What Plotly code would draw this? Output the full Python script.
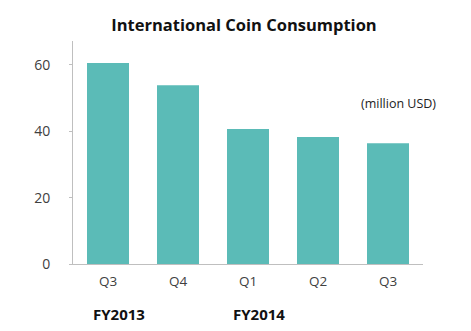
import plotly.graph_objects as go

quarters = ["Q3", "Q4", "Q1", "Q2", "Q3"]
values = [60.6, 53.9, 40.7, 38.3, 36.4]
fiscal_years = ["FY2013", "FY2014"]
fy_positions = [0.16, 2.16]
y_ticks = [0, 20, 40, 60]

positions = list(range(len(quarters)))
bar_color = "#5BBBB7"
axis_color = "#BFBFBF"
text_color = "#404040"
font_family = "Open Sans, Lato, sans-serif"

fig = go.Figure()
fig.add_trace(go.Bar(x=positions, y=values, marker=dict(color=bar_color, line=dict(width=0)),
                     width=0.6, hoverinfo="skip"))

fig.update_layout(
    width=471, height=331,
    margin=dict(l=73, r=48, t=41, b=67),
    paper_bgcolor="white", plot_bgcolor="white",
    showlegend=False,
    font=dict(family=font_family, size=12, color=text_color),
    title=dict(text="<b>International Coin Consumption</b>", x=0.518, xanchor="center",
               y=1 - 25 / 331, yanchor="middle",
               font=dict(family=font_family, size=16.5, color="#111111")),
    xaxis=dict(range=[-0.5, 4.5], tickvals=positions, ticktext=quarters,
               showline=True, linecolor=axis_color, linewidth=1,
               showgrid=False, zeroline=False, ticks="", ticklen=0,
               ticklabelstandoff=5,
               tickfont=dict(size=13.5, color=text_color)),
    yaxis=dict(range=[0, 67.2], tickvals=y_ticks, showline=True, linecolor=axis_color,
               linewidth=1, showgrid=False, zeroline=False, ticks="outside", ticklen=3,
               tickcolor=axis_color, ticklabelstandoff=16,
               tickfont=dict(size=14, color=text_color)),
)

fy_y = -(314 - 264) / (264 - 41)
for label, xp in zip(fiscal_years, fy_positions):
    fig.add_annotation(x=xp, xref="x", y=fy_y, yref="paper", text=f"<b>{label}</b>",
                       showarrow=False, font=dict(family=font_family, size=15, color="#111111"),
                       xanchor="center", yanchor="middle")

fig.add_annotation(x=(438 - 73) / (423 - 73), xref="paper", y=(264 - 103) / (264 - 41), yref="paper",
                   text="(million USD)", showarrow=False,
                   font=dict(family=font_family, size=12.5, color="#222222"),
                   xanchor="right", yanchor="middle")

fig.write_html("out.html")
